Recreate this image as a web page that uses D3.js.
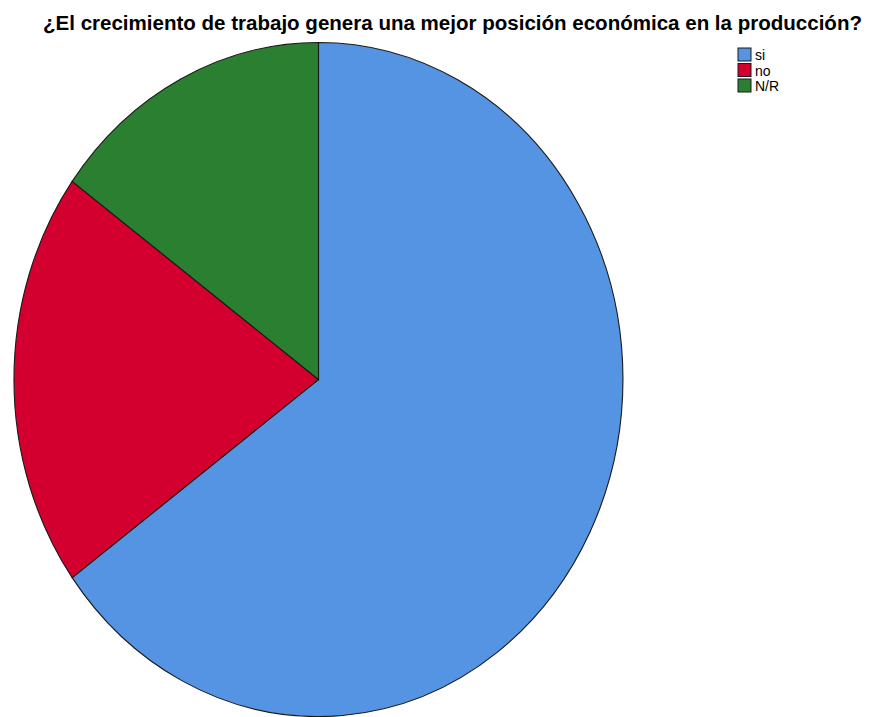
<!DOCTYPE html>
<html>
<head>
<meta charset="utf-8">
<script src="https://cdn.jsdelivr.net/npm/d3@7"></script>
<style>
  html, body { margin: 0; padding: 0; background: #fff; }
  svg { display: block; }
</style>
</head>
<body>
<svg id="chart" width="877" height="717"></svg>
<script>
// Responses to the survey question
const categories = ["si", "no", "N/R"];
const percentages = [65, 20, 15];
const colors = ["#5594e3", "#d3002f", "#2a8030"];
const title = "¿El crecimiento de trabajo genera una mejor posición económica en la producción?";

const svg = d3.select("#chart");
const fontStack = "'Liberation Sans Narrow', 'Arial Narrow', 'Liberation Sans', Arial, sans-serif";

// Pie geometry (drawn as an ellipse: unit arcs scaled on each axis)
const cx = 318.5, cy = 379.5, rx = 304.5, ry = 337;

const pie = d3.pie().sort(null).value(d => d.value);
const arc = d3.arc().innerRadius(0).outerRadius(1);
const data = categories.map((c, i) => ({ name: c, value: percentages[i], color: colors[i] }));

const g = svg.append("g")
  .attr("transform", `translate(${cx},${cy}) scale(${rx},${ry})`);

g.selectAll("path")
  .data(pie(data))
  .join("path")
  .attr("d", arc)
  .attr("fill", d => d.data.color)
  .attr("stroke", "#1a1a1a")
  .attr("stroke-width", 1.1)
  .attr("vector-effect", "non-scaling-stroke");

// Title
svg.append("text")
  .attr("x", 43)
  .attr("y", 30)
  .attr("textLength", 819)
  .attr("lengthAdjust", "spacingAndGlyphs")
  .attr("font-family", fontStack)
  .attr("font-weight", "bold")
  .attr("font-size", 20)
  .attr("fill", "#000")
  .text(title);

// Legend
const legend = svg.append("g").attr("transform", "translate(738,48)");
const item = legend.selectAll("g")
  .data(data)
  .join("g")
  .attr("transform", (d, i) => `translate(0,${i * 15.5})`);

item.append("rect")
  .attr("width", 13)
  .attr("height", 13)
  .attr("fill", d => d.color)
  .attr("stroke", "#1a1a1a")
  .attr("stroke-width", 1);

item.append("text")
  .attr("x", 17)
  .attr("y", 12)
  .attr("font-family", fontStack)
  .attr("font-size", 14)
  .attr("fill", "#000")
  .text(d => d.name);
</script>
</body>
</html>
